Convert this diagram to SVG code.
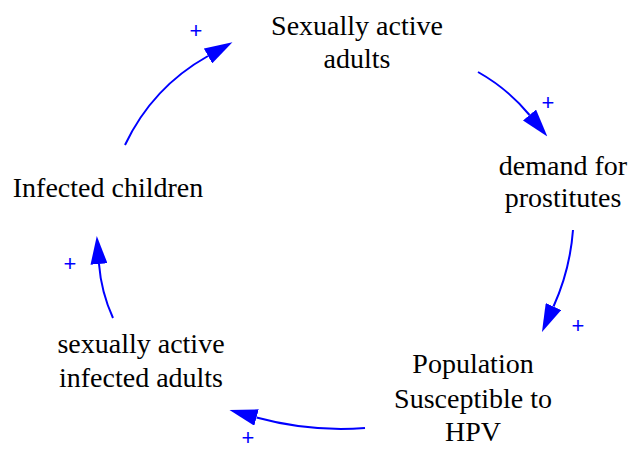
<svg xmlns="http://www.w3.org/2000/svg" width="631" height="450" viewBox="0 0 631 450">
  <style>
    .link { fill: none; stroke: #0000ff; stroke-width: 2; marker-end: url(#head); }
  </style>
  <defs>
    <marker id="head" markerUnits="userSpaceOnUse" viewBox="0 0 28 17" refX="0" refY="8.5" markerWidth="28" markerHeight="17" orient="auto">
      <path d="M0,0 L28,8.5 L0,17 Z" fill="#0000ff"/>
    </marker>
  </defs>
  <rect width="631" height="450" fill="#fff"/>

  <g id="connectors">
    <path class="link" d="M125,145 A200,200 0 0 1 208,56"/>
    <path class="link" d="M478,72 A184,184 0 0 1 529.5,115"/>
    <path class="link" d="M573,230 A227,227 0 0 1 553.5,306.5"/>
    <path class="link" d="M365,428 A320,320 0 0 1 256.5,417.5"/>
    <path class="link" d="M113,318 A160,160 0 0 1 99,264"/>
    <!-- link polarity signs -->
    <g font-family="Liberation Sans, Arial, sans-serif" font-size="22" fill="#0000ff" text-anchor="middle">
      <text x="196" y="38">+</text>
      <text x="548" y="110">+</text>
      <text x="578" y="333">+</text>
      <text x="248" y="445">+</text>
      <text x="70" y="271">+</text>
    </g>
  </g>

  <g font-family="Liberation Serif, Times New Roman, serif" font-size="28" fill="#000" text-anchor="middle">
    <g id="sexually-active-adults">
      <text x="357" y="35">Sexually active</text>
      <text x="357" y="68">adults</text>
    </g>
    <g id="demand-for-prostitutes">
      <text x="563" y="175">demand for</text>
      <text x="563" y="207">prostitutes</text>
    </g>
    <g id="population-susceptible">
      <text x="473" y="373">Population</text>
      <text x="473" y="408">Susceptible to</text>
      <text x="473" y="441">HPV</text>
    </g>
    <g id="sexually-active-infected-adults">
      <text x="141" y="353">sexually active</text>
      <text x="141" y="387">infected adults</text>
    </g>
    <g id="infected-children">
      <text x="108" y="197">Infected children</text>
    </g>
  </g>
</svg>
